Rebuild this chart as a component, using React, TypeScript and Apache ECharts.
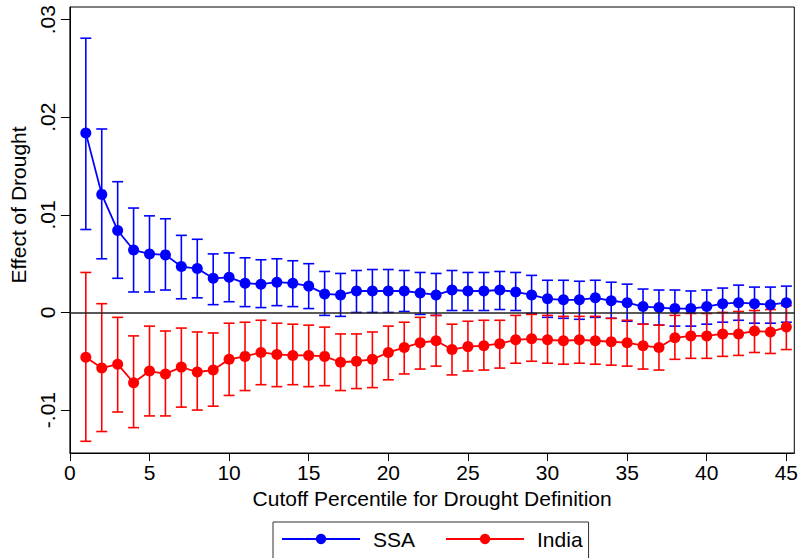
import React, { useEffect, useRef } from "react";
import * as echarts from "echarts";

const cutoffs = [1, 2, 3, 4, 5, 6, 7, 8, 9, 10, 11, 12, 13, 14, 15, 16, 17, 18, 19, 20, 21, 22, 23, 24, 25, 26, 27, 28, 29, 30, 31, 32, 33, 34, 35, 36, 37, 38, 39, 40, 41, 42, 43, 44, 45];

const ssaCoef = [0.0184, 0.0121, 0.0084, 0.0064, 0.006, 0.0059, 0.0047, 0.0045, 0.0035, 0.0036, 0.003, 0.0029, 0.0031, 0.003, 0.0027, 0.0019, 0.0018, 0.0022, 0.0022, 0.0022, 0.0022, 0.002, 0.0018, 0.0023, 0.0022, 0.0022, 0.0023, 0.0021, 0.0018, 0.0014, 0.0013, 0.0013, 0.0015, 0.0012, 0.001, 0.0006, 0.0005, 0.0004, 0.0004, 0.0006, 0.0009, 0.001, 0.0009, 0.0008, 0.001];
const ssaUpper = [0.0281, 0.0188, 0.0134, 0.0107, 0.0099, 0.0096, 0.0079, 0.0075, 0.006, 0.0061, 0.0056, 0.0054, 0.0055, 0.0053, 0.005, 0.0042, 0.004, 0.0043, 0.0044, 0.0044, 0.0043, 0.0041, 0.004, 0.0043, 0.0041, 0.0041, 0.0042, 0.0041, 0.0038, 0.0033, 0.0033, 0.0032, 0.0033, 0.0031, 0.0029, 0.0024, 0.0023, 0.0023, 0.0022, 0.0023, 0.0025, 0.0028, 0.0026, 0.0026, 0.0027];
const ssaLower = [0.0085, 0.0055, 0.0035, 0.0021, 0.0021, 0.0023, 0.0014, 0.0015, 0.0008, 0.0011, 0.0006, 0.0005, 0.0007, 0.0006, 0.0004, -0.0003, -0.0004, 0.0, 0.0, 0.0, 0.0001, -0.0002, -0.0003, 0.0002, 0.0002, 0.0002, 0.0003, 0.0002, -0.0001, -0.0005, -0.0006, -0.0007, -0.0005, -0.0006, -0.0009, -0.0012, -0.0013, -0.0014, -0.0014, -0.0012, -0.001, -0.0008, -0.0011, -0.0011, -0.001];

const indiaCoef = [-0.0046, -0.0057, -0.0053, -0.0072, -0.006, -0.0063, -0.0056, -0.0061, -0.0059, -0.0048, -0.0045, -0.0041, -0.0043, -0.0044, -0.0044, -0.0045, -0.0051, -0.005, -0.0048, -0.0041, -0.0036, -0.0031, -0.0029, -0.0038, -0.0035, -0.0034, -0.0032, -0.0028, -0.0027, -0.0028, -0.0029, -0.0028, -0.0029, -0.003, -0.0031, -0.0034, -0.0036, -0.0026, -0.0024, -0.0024, -0.0022, -0.0022, -0.0019, -0.002, -0.0015];
const indiaUpper = [0.0041, 0.0009, -0.0005, -0.0024, -0.0014, -0.0019, -0.0016, -0.002, -0.0021, -0.0011, -0.001, -0.0008, -0.0011, -0.0012, -0.0013, -0.0015, -0.0022, -0.0022, -0.002, -0.0014, -0.001, -0.0005, -0.0003, -0.0012, -0.0009, -0.0008, -0.0008, -0.0003, -0.0002, -0.0003, -0.0004, -0.0004, -0.0004, -0.0006, -0.0008, -0.0012, -0.0013, -0.0003, -0.0001, -0.0001, 0.0, 0.0001, 0.0002, 0.0003, 0.0007];
const indiaLower = [-0.0132, -0.0122, -0.0102, -0.0118, -0.0106, -0.0106, -0.0097, -0.01, -0.0096, -0.0085, -0.008, -0.0074, -0.0076, -0.0074, -0.0076, -0.0075, -0.008, -0.0078, -0.0077, -0.0069, -0.0063, -0.0058, -0.0055, -0.0064, -0.006, -0.0059, -0.0057, -0.0052, -0.005, -0.0052, -0.0053, -0.0052, -0.0053, -0.0054, -0.0055, -0.0058, -0.0059, -0.0048, -0.0047, -0.0047, -0.0045, -0.0044, -0.0041, -0.0042, -0.0038];

const xTicks = [0, 5, 10, 15, 20, 25, 30, 35, 40, 45];
const yTicks = [-0.01, 0, 0.01, 0.02, 0.03];

const FONT = "'Liberation Sans', Arial, Helvetica, sans-serif";
const FS = 21;
const BLUE = "#0000ff";
const RED = "#ff0000";

function errorBars(name: string, color: string, lower: number[], upper: number[], extra: any = {}) {
  return {
    name: name + " CI",
    type: "custom",
    z: 2,
    data: cutoffs.map((c, i) => [c, lower[i], upper[i]]),
    encode: { x: 0, y: [1, 2] },
    renderItem: (params: any, api: any) => {
      const x = api.value(0);
      const lo = api.coord([x, api.value(1)]);
      const hi = api.coord([x, api.value(2)]);
      const w = 5.5;
      const style = { stroke: color, lineWidth: 1.6, fill: "none" };
      return {
        type: "group",
        children: [
          { type: "line", shape: { x1: lo[0], y1: lo[1], x2: hi[0], y2: hi[1] }, style },
          { type: "line", shape: { x1: lo[0] - w, y1: lo[1], x2: lo[0] + w, y2: lo[1] }, style },
          { type: "line", shape: { x1: hi[0] - w, y1: hi[1], x2: hi[0] + w, y2: hi[1] }, style },
        ],
      };
    },
    ...extra,
  };
}

function fmtY(v: number) {
  if (Math.abs(v) < 1e-9) return "0";
  const s = Math.abs(v).toFixed(2).replace(/^0/, "");
  return (v < 0 ? "-" : "") + s;
}

export default function App() {
  const ref = useRef<HTMLDivElement>(null);
  useEffect(() => {
    if (!ref.current) return;
    const chart = echarts.init(ref.current, undefined, { renderer: "svg" });
    chart.setOption({
      animation: false,
      backgroundColor: "#ffffff",
      textStyle: { fontFamily: FONT },
      grid: {
        left: 68,
        right: 5,
        top: 7,
        bottom: 105,
        show: true,
        borderColor: "#000",
        borderWidth: 1,
        backgroundColor: "#fff",
      },
      legend: {
        data: ["SSA", "India"],
        left: 273,
        top: 522,
        orient: "horizontal",
        itemWidth: 78,
        itemHeight: 13,
        itemGap: 30,
        padding: [5, 6, 20, 8],
        borderColor: "#333",
        borderWidth: 1,
        backgroundColor: "#fff",
        textStyle: { fontSize: FS, fontFamily: FONT, color: "#000", padding: [0, 0, 0, 8], lineHeight: 24 },
      },
      xAxis: {
        type: "value",
        min: 0,
        max: 45.5,
        name: "Cutoff Percentile for Drought Definition",
        nameLocation: "middle",
        nameGap: 31,
        nameTextStyle: { fontSize: FS, color: "#000", fontFamily: FONT },
        axisLine: { show: true, onZero: false, lineStyle: { color: "#000", width: 1 } },
        axisTick: { show: true, length: 8, customValues: xTicks, lineStyle: { color: "#000" } },
        axisLabel: { customValues: xTicks, fontSize: FS, color: "#000", margin: 9, fontFamily: FONT },
        splitLine: { show: false },
      },
      yAxis: {
        type: "value",
        min: -0.0144,
        max: 0.0313,
        name: "Effect of Drought",
        nameLocation: "middle",
        nameRotate: 90,
        nameGap: 40,
        nameTextStyle: { fontSize: FS, color: "#000", fontFamily: FONT, padding: [0, 0, 0, 50] },
        axisLine: { show: true, lineStyle: { color: "#000", width: 1 } },
        axisTick: { show: true, length: 9, customValues: yTicks, lineStyle: { color: "#000" } },
        axisLabel: { customValues: yTicks, fontSize: FS, color: "#000", rotate: 90, margin: 12, formatter: fmtY, fontFamily: FONT },
        splitLine: { show: false },
      },
      series: [
        errorBars("SSA", BLUE, ssaLower, ssaUpper),
        errorBars("India", RED, indiaLower, indiaUpper, {
          markLine: {
            silent: true,
            symbol: "none",
            label: { show: false },
            lineStyle: { color: "#222", width: 1.5, type: "solid" },
            data: [{ yAxis: 0 }],
          },
        }),
        {
          name: "SSA",
          type: "line",
          z: 3,
          data: cutoffs.map((c, i) => [c, ssaCoef[i]]),
          symbol: "circle",
          symbolSize: 11,
          itemStyle: { color: BLUE },
          lineStyle: { color: BLUE, width: 1.8 },
        },
        {
          name: "India",
          type: "line",
          z: 3,
          data: cutoffs.map((c, i) => [c, indiaCoef[i]]),
          symbol: "circle",
          symbolSize: 11,
          itemStyle: { color: RED },
          lineStyle: { color: RED, width: 1.8 },
        },
      ],
    });
    return () => chart.dispose();
  }, []);
  return <div ref={ref} style={{ position: "fixed", left: 0, top: 0, width: 801, height: 558 }} />;
}
